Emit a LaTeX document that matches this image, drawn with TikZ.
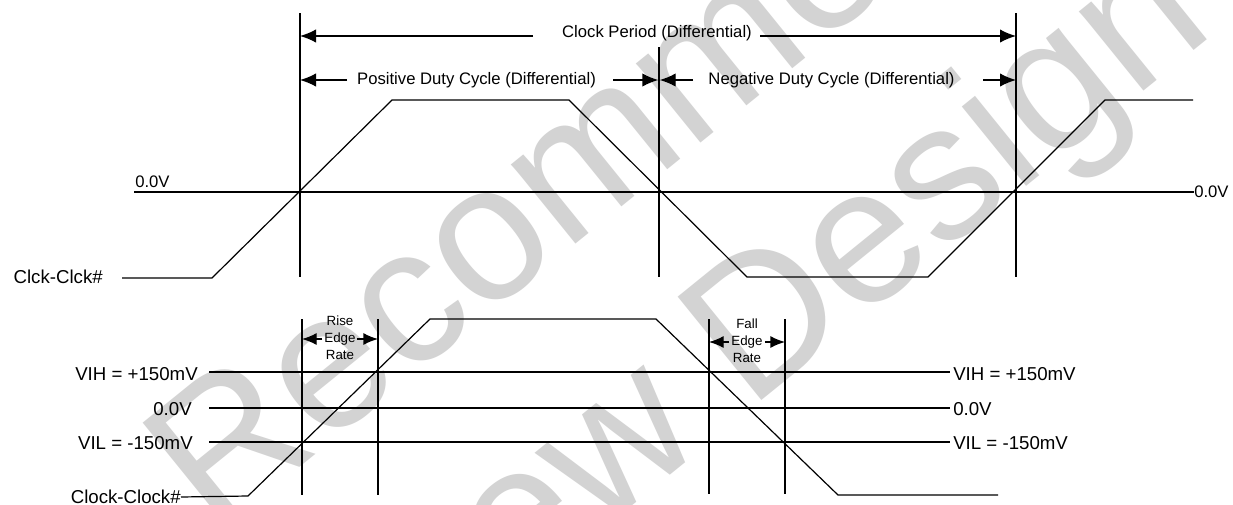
\documentclass[tikz,border=0pt]{standalone}
\usepackage{fontspec}
\setmainfont{Liberation Sans}
\usetikzlibrary{arrows.meta}
\definecolor{wmgray}{RGB}{211,211,211}
\begin{document}
\begin{tikzpicture}[x=0.75pt,y=-0.75pt,
  wave/.style={line width=0.9pt},
  rulel/.style={line width=1.1pt},
  hlbl/.style={font=\fontsize{12.5}{14}\selectfont, inner sep=0pt},
  biglbl/.style={font=\fontsize{14}{16}\selectfont, inner sep=0pt},
  tinylbl/.style={font=\fontsize{10}{12.75}\selectfont, inner sep=0pt, align=center},
  wmtext/.style={font=\fontsize{145}{160}\selectfont, text=wmgray, inner sep=0pt, rotate=39, anchor=base},
  hd/.style={-{Latex[length=12pt,width=10pt]}, line width=1pt},
  hds/.style={-{Latex[length=11pt,width=9pt]}, line width=1pt},
]
\useasboundingbox (0,0) rectangle (1233,504);
\fill[white] (0,0) rectangle (1233,504);

% watermark
\begin{scope}
\clip (0,0) rectangle (1233,504);
\node[wmtext] (wm1) at (724,124) {Recommended};
\node[wmtext] (wm2) at (812,360) {New Design};
\end{scope}

% ---------- upper diagram ----------
\coordinate (v1t) at (300,13);  \coordinate (v1b) at (300,277);
\coordinate (v2t) at (659,47);  \coordinate (v2b) at (659,277);
\coordinate (v3t) at (1016,13); \coordinate (v3b) at (1016,277);
\draw[rulel] (v1t) -- (v1b);
\draw[rulel] (v2t) -- (v2b);
\draw[rulel] (v3t) -- (v3b);

% clock period
\node[hlbl, anchor=base] (cp) at (657,37) {Clock Period (Differential)};
\coordinate (cpl) at (533,36);
\coordinate (cpr) at (760,36);
\draw[hd] (cpl) -- (v1t |- cpl);
\draw[hd] (cpr) -- (v3t |- cpr);

% duty cycles
\node[hlbl, anchor=base] (pd) at (476.5,84) {Positive Duty Cycle (Differential)};
\node[hlbl, anchor=base] (nd) at (831.5,84) {Negative Duty Cycle (Differential)};
\coordinate (pdl) at (347,80);
\coordinate (pdr) at (613,80);
\coordinate (ndl) at (693,80);
\coordinate (ndr) at (983,80);
\draw[hd] (pdl) -- (v1t |- pdl);
\draw[hd] (pdr) -- ([xshift=-0.5pt]v2t |- pdr);
\draw[hd] (ndl) -- ([xshift=0.5pt]v2t |- ndl);
\draw[hd] (ndr) -- (v3t |- ndr);

% zero line
\coordinate (z0l) at (134,192);
\coordinate (z0r) at (1194,192);
\draw[rulel] (z0l) -- (z0r);
\node[hlbl, anchor=base west] (z0tl) at (135,187) {0.0V};
\node[hlbl, anchor=west] (z0tr) at (z0r) {0.0V};

% waveform
\node[biglbl, anchor=base east] (cka) at (103,283) {Clck-Clck\#};
\coordinate (w1) at (122,278);
\coordinate (w2) at (212,278);
\coordinate (w3) at (392,100);
\coordinate (w4) at (569,100);
\coordinate (w5) at (747,277);
\coordinate (w6) at (928,277);
\coordinate (w7) at (1105,100);
\coordinate (w8) at (1193,100);
\draw[wave] (w1) -- (w2) -- (w3) -- (w4) -- (w5) -- (w6) -- (w7) -- (w8);

% ---------- lower diagram ----------
\coordinate (r1t) at (302,319); \coordinate (r1b) at (302,495);
\coordinate (r2t) at (378,319); \coordinate (r2b) at (378,495);
\coordinate (f1t) at (709,319); \coordinate (f1b) at (709,494);
\coordinate (f2t) at (785,319); \coordinate (f2b) at (785,494);
\draw[rulel] (r1t) -- (r1b);
\draw[rulel] (r2t) -- (r2b);
\draw[rulel] (f1t) -- (f1b);
\draw[rulel] (f2t) -- (f2b);

\coordinate (hil) at (209,372); \coordinate (hir) at (950,372);
\coordinate (mdl) at (209,408); \coordinate (mdr) at (950,408);
\coordinate (lol) at (209,442); \coordinate (lor) at (950,442);
\draw[line width=1.3pt] (hil) -- (hir);
\draw[line width=1.3pt] (mdl) -- (mdr);
\draw[line width=1.3pt] (lol) -- (lor);

\node[biglbl, anchor=east] (vihl) at (198,374) {VIH = +150mV};
\node[biglbl, anchor=east] (zl)   at (192,409) {0.0V};
\node[biglbl, anchor=east] (vill) at (193,443) {VIL = -150mV};
\node[biglbl, anchor=west] (vihr) at (953,374) {VIH = +150mV};
\node[biglbl, anchor=west] (zr)   at (953,409) {0.0V};
\node[biglbl, anchor=west] (vilr) at (953,443) {VIL = -150mV};

% edge rates
\node[tinylbl] (rer) at (340,338) {Rise\\Edge\\Rate};
\coordinate (rerl) at (322,339);
\coordinate (rerr) at (357,339);
\draw[hds] (rerl) -- (r1t |- rerl);
\draw[hds] (rerr) -- (r2t |- rerr);

\node[tinylbl] (fer) at (747,341) {Fall\\Edge\\Rate};
\coordinate (ferl) at (729,342);
\coordinate (ferr) at (765,342);
\draw[hds] (ferl) -- (f1t |- ferl);
\draw[hds] (ferr) -- (f2t |- ferr);

% lower waveform
\node[biglbl, anchor=east] (ckb) at (181,497) {Clock-Clock\#};
\coordinate (b2) at (248,496);
\coordinate (b3) at (430,319);
\coordinate (b4) at (656,319);
\coordinate (b5) at (838,495);
\coordinate (b6) at (998,495);
\draw[wave] (ckb.east) -- (b2) -- (b3) -- (b4) -- (b5) -- (b6);
\end{tikzpicture}
\end{document}
